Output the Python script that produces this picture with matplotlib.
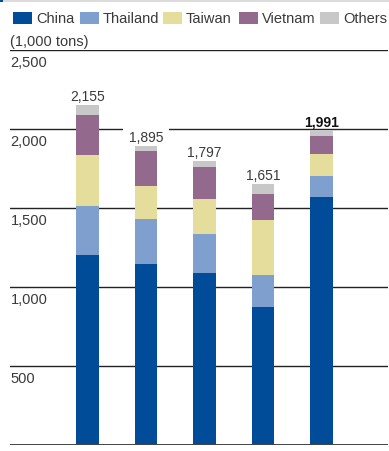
import matplotlib
matplotlib.use("Agg")
import matplotlib.pyplot as plt
from matplotlib.patches import Rectangle

plt.rcParams['font.family'] = ['Liberation Sans', 'DejaVu Sans']

categories = ["1", "2", "3", "4", "5"]
series_names = ["China", "Thailand", "Taiwan", "Vietnam", "Others"]
china = [1203, 1146, 1089, 873, 1570]
thailand = [312, 284, 246, 203, 133]
taiwan = [320, 209, 222, 348, 139]
vietnam = [254, 222, 202, 165, 114]
others = [66, 34, 38, 62, 35]
totals = [2155, 1895, 1797, 1651, 1991]
total_labels = ["2,155", "1,895", "1,797", "1,651", "1,991"]
yticks = [500, 1000, 1500, 2000, 2500]
ytick_labels = ["500", "1,000", "1,500", "2,000", "2,500"]
unit_label = "(1,000 tons)"

colors = ["#004C99", "#7FA0CF", "#E5DD9C", "#93698E", "#C8C8C8"]
text_color = "#3a3a3a"

W, H = 389, 452
fig = plt.figure(figsize=(W / 100, H / 100), dpi=100)

# top decorative band
fig.add_artist(Rectangle((0, 1 - 2.5 / H), 1, 2.5 / H, transform=fig.transFigure,
                         color="#dcdcdc", lw=0))
fig.add_artist(Rectangle((0, 1 - 2.5 / H), 3 / W, 2.5 / H, transform=fig.transFigure,
                         color="#004C99", lw=0))

ax = fig.add_axes([10 / W, (H - 446) / H, 378 / W, 395 / H])
ax.set_ylim(0, 2500)
ax.set_xlim(-1.325, 5.137)
ax.axis("off")

x = list(range(len(categories)))
data = [china, thailand, taiwan, vietnam, others]
bottom = [0] * len(categories)
for vals, c in zip(data, colors):
    ax.bar(x, vals, bottom=bottom, width=0.393, color=c, zorder=2, linewidth=0)
    bottom = [b + v for b, v in zip(bottom, vals)]

# gridlines and tick labels
for t, lab in zip(yticks, ytick_labels):
    ax.axhline(t, color="#222222", lw=1.0, zorder=1)
    ax.annotate(lab, (0, t), xycoords=("axes fraction", "data"),
                xytext=(0.5, -12), textcoords="offset pixels",
                ha="left", va="center", fontsize=10.5, color=text_color)
ax.axhline(0, color="#444444", lw=1.4, zorder=3)

# total labels
for i, (tot, lab) in enumerate(zip(totals, total_labels)):
    bold = i == len(totals) - 1
    kw = {}
    z = 4
    if i == 1:
        kw["bbox"] = dict(facecolor="white", edgecolor="none", pad=4)
        z = 1.5
    ax.annotate(lab, (x[i], tot), xytext=(0, 9), textcoords="offset pixels",
                ha="center", va="center", fontsize=10, color="#111111" if bold else text_color,
                fontweight="bold" if bold else "normal", zorder=z, **kw)

# legend
leg_sq_x = [13, 80, 163, 239, 320]
for name, c, sx in zip(series_names, colors, leg_sq_x):
    fig.add_artist(Rectangle((sx / W, 1 - 25 / H), 19 / W, 12 / H,
                             transform=fig.transFigure, color=c, lw=0))
    fig.text((sx + 23) / W, 1 - 19 / H, name, ha="left", va="center",
             fontsize=10.5, color=text_color)

fig.text(10 / W, 1 - 42 / H, unit_label, ha="left", va="center",
         fontsize=10.5, color=text_color)

fig.savefig("out.png", dpi=100)
